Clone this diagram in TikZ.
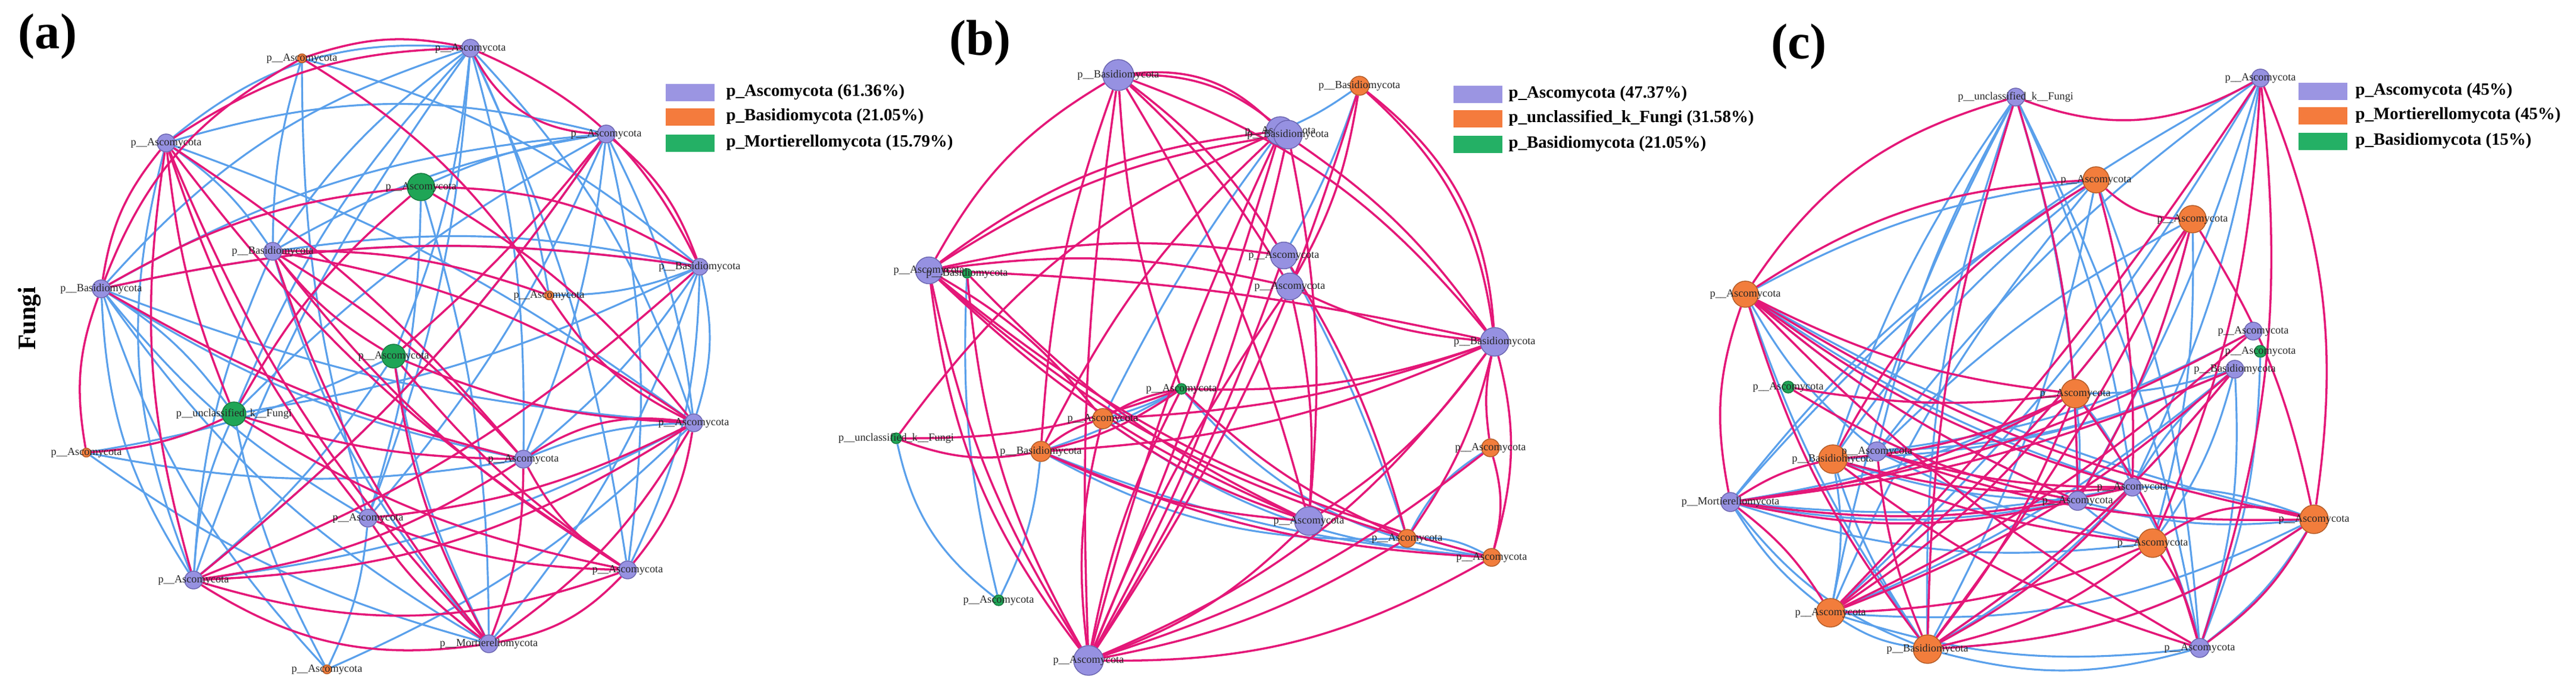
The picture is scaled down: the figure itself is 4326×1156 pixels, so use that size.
\documentclass[tikz,border=0pt]{standalone}
\usepackage{fontspec}
\setmainfont{Liberation Serif}
\usetikzlibrary{calc,backgrounds}
\definecolor{cpk}{HTML}{E41778}
\definecolor{cbl}{HTML}{5AA0EB}
\definecolor{cpu}{HTML}{9691E1}
\definecolor{cpuD}{HTML}{6A64B0}
\definecolor{cor}{HTML}{F27D3C}
\definecolor{corD}{HTML}{B25A25}
\definecolor{cgr}{HTML}{1FA556}
\definecolor{cgrD}{HTML}{157A3E}
\definecolor{lpu}{HTML}{9B95E2}
\definecolor{lor}{HTML}{F47B3D}
\definecolor{lgr}{HTML}{24B065}
\tikzset{
 nd/.style={circle,inner sep=0pt,line width=0.4pt},
 npu/.style={nd,fill=cpu,draw=cpuD},
 nor/.style={nd,fill=cor,draw=corD},
 ngr/.style={nd,fill=cgr,draw=cgrD},
 lb/.style={font=\fontsize{5.2}{6}\selectfont,text=black!85,inner sep=0pt},
 pk/.style={draw=cpk,line width=1pt},
 bl/.style={draw=cbl,line width=0.9pt},
 ttl/.style={font=\fontsize{24}{24}\selectfont\bfseries,inner sep=0pt},
 lgt/.style={font=\fontsize{8.2}{9}\selectfont\bfseries,anchor=west,inner sep=0pt},
 sw/.style={draw=none,inner sep=0pt,minimum width=8.2mm,minimum height=2.9mm}
}
\newcommand\nd[5]{\node[#1,minimum size=#2mm,label={[lb]center:#5}] (#3) at (#4) {};}
\newcommand\edg[4]{\path[#1] let \p1=(#2), \p2=(#3), \p3=(\ctr),
  \n1={atan2(\y2-\y1,\x2-\x1)},
  \n2={((\x3-0.5*\x1-0.5*\x2)/100)*((\y1-\y2)/100)+((\y3-0.5*\y1-0.5*\y2)/100)*((\x2-\x1)/100)},
  \n3={(1-2*(\n2>0))*#4}, \n4={\n1+\n3}, \n5={\n1+180-\n3}
  in (#2) to[out=\n4,in=\n5] (#3);}
\begin{document}
\begin{tikzpicture}[x=0.01cm,y=-0.01cm]
\useasboundingbox (0,0) rectangle (4326,1156);
% titles
\node[ttl] (ta) at (80,61) {(a)};
\node[ttl] (tb) at (1646,72) {(b)};
\node[ttl] (tc) at (3021,78) {(c)};
\node[font=\fontsize{12}{12}\selectfont\bfseries,rotate=90,inner sep=0pt] (fungi) at (50,535) {Fungi};
% legends
\node[sw,fill=lpu] (la1) at (1159,155) {};
\node[sw,fill=lor] (la2) at (1159,196) {};
\node[sw,fill=lgr] (la3) at (1159,240) {};
\node[lgt] (lta1) at (1219,155) {p\_Ascomycota (61.36\%)};
\node[lgt] (lta2) at (1219,196) {p\_Basidiomycota (21.05\%)};
\node[lgt] (lta3) at (1219,240) {p\_Mortierellomycota (15.79\%)};
\node[sw,fill=lpu] (lb1) at (2482,158) {};
\node[sw,fill=lor] (lb2) at (2482,199) {};
\node[sw,fill=lgr] (lb3) at (2482,242) {};
\node[lgt] (ltb1) at (2533,158) {p\_Ascomycota (47.37\%)};
\node[lgt] (ltb2) at (2533,199) {p\_unclassified\_k\_Fungi (31.58\%)};
\node[lgt] (ltb3) at (2533,242) {p\_Basidiomycota (21.05\%)};
\node[sw,fill=lpu] (lc1) at (3901,153) {};
\node[sw,fill=lor] (lc2) at (3901,194) {};
\node[sw,fill=lgr] (lc3) at (3901,237) {};
\node[lgt] (ltc1) at (3955,153) {p\_Ascomycota (45\%)};
\node[lgt] (ltc2) at (3955,194) {p\_Mortierellomycota (45\%)};
\node[lgt] (ltc3) at (3955,237) {p\_Basidiomycota (15\%)};
% panel a nodes
\coordinate (ctrA) at (660,590);
\nd{nor}{1.5}{A1}{507,98}{p\_\_Ascomycota}
\nd{npu}{3.0}{A2}{279,240}{p\_\_Ascomycota}
\nd{ngr}{4.6}{A3}{707,314}{p\_\_Ascomycota}
\nd{npu}{3.0}{A4}{458,422}{p\_\_Basidiomycota}
\nd{npu}{3.0}{A5}{170,485}{p\_\_Basidiomycota}
\nd{npu}{3.0}{A6}{790,81}{p\_\_Ascomycota}
\nd{npu}{3.0}{A7}{1018,225}{p\_\_Ascomycota}
\nd{npu}{2.8}{A8}{1175,448}{p\_\_Basidiomycota}
\nd{nor}{1.5}{A9}{922,496}{p\_\_Ascomycota}
\nd{ngr}{4.0}{A10}{661,598}{p\_\_Ascomycota}
\nd{ngr}{4.0}{A11}{393,695}{p\_\_unclassified\_k\_\_Fungi}
\nd{nor}{1.5}{A12}{145,760}{p\_\_Ascomycota}
\nd{npu}{3.0}{A13}{618,870}{p\_\_Ascomycota}
\nd{npu}{3.0}{A14}{325,974}{p\_\_Ascomycota}
\nd{nor}{1.5}{A15}{549,1124}{p\_\_Ascomycota}
\nd{npu}{3.0}{A16}{1165,710}{p\_\_Ascomycota}
\nd{npu}{3.0}{A17}{879,771}{p\_\_Ascomycota}
\nd{npu}{3.0}{A19}{1054,957}{p\_\_Ascomycota}
\nd{npu}{3.0}{A20}{821,1081}{p\_\_Mortierellomycota}
% panel b nodes
\coordinate (ctrB) at (2008,618);
\nd{npu}{5.2}{B1}{1878,126}{p\_\_Basidiomycota}
\nd{npu}{4.5}{B2}{1560,454}{p\_\_Ascomycota}
\nd{ngr}{1.6}{B3}{1624,459}{p\_\_Basidiomycota}
\nd{nor}{3.2}{B4}{2283,144}{p\_\_Basidiomycota}
\nd{npu}{4.8}{B5a}{2150,220}{p\_\_Ascomycota}
\nd{npu}{4.8}{B5b}{2163,226}{p\_\_Basidiomycota}
\nd{npu}{4.5}{B6}{2156,429}{p\_\_Ascomycota}
\nd{npu}{4.5}{B7}{2166,481}{p\_\_Ascomycota}
\nd{npu}{4.8}{B8}{2510,574}{p\_\_Basidiomycota}
\nd{ngr}{1.8}{B9}{1505,736}{p\_\_unclassified\_k\_\_Fungi}
\nd{nor}{3.4}{B10}{1748,758}{p\_\_Basidiomycota}
\nd{nor}{3.4}{B11}{1852,703}{p\_\_Ascomycota}
\nd{ngr}{1.8}{B12}{1984,653}{p\_\_Ascomycota}
\nd{ngr}{1.8}{B13}{1677,1008}{p\_\_Ascomycota}
\nd{npu}{5.0}{B14}{1828,1109}{p\_\_Ascomycota}
\nd{nor}{3.0}{B15}{2503,752}{p\_\_Ascomycota}
\nd{npu}{4.8}{B16}{2198,875}{p\_\_Ascomycota}
\nd{nor}{3.0}{B17}{2363,904}{p\_\_Ascomycota}
\nd{nor}{3.0}{B18}{2505,936}{p\_\_Ascomycota}
% panel c nodes
\coordinate (ctrC) at (3396,610);
\nd{npu}{3.0}{C1}{3385,163}{p\_\_unclassified\_k\_\_Fungi}
\nd{nor}{4.4}{C2}{3520,302}{p\_\_Ascomycota}
\nd{nor}{4.4}{C3}{2931,494}{p\_\_Ascomycota}
\nd{npu}{3.0}{C4}{3796,131}{p\_\_Ascomycota}
\nd{nor}{4.6}{C5}{3682,368}{p\_\_Ascomycota}
\nd{npu}{3.0}{C6}{3784,556}{p\_\_Ascomycota}
\nd{ngr}{2.0}{C7}{3003,650}{p\_\_Ascomycota}
\nd{nor}{4.8}{C8}{3485,661}{p\_\_Ascomycota}
\nd{nor}{4.8}{C9}{3078,771}{p\_\_Basidiomycota}
\nd{npu}{3.2}{C10}{3152,758}{p\_\_Ascomycota}
\nd{npu}{3.2}{C11}{2906,843}{p\_\_Mortierellomycota}
\nd{npu}{3.2}{C12}{3489,841}{p\_\_Ascomycota}
\nd{nor}{4.8}{C13}{3074,1029}{p\_\_Ascomycota}
\nd{nor}{4.8}{C14}{3237,1090}{p\_\_Basidiomycota}
\nd{ngr}{2.0}{C15}{3796,590}{p\_\_Ascomycota}
\nd{npu}{3.0}{C16}{3753,620}{p\_\_Basidiomycota}
\nd{npu}{3.0}{C17}{3581,818}{p\_\_Ascomycota}
\nd{nor}{4.8}{C18}{3886,872}{p\_\_Ascomycota}
\nd{nor}{4.8}{C19}{3615,912}{p\_\_Ascomycota}
\nd{npu}{3.2}{C20}{3694,1088}{p\_\_Ascomycota}
% edges
\begin{pgfonlayer}{background}
\def\ctr{ctrA}
\foreach \a/\b/\t in {A6/A2/22,A6/A5/15,A6/A4/10,A6/A11/10,A6/A13/8,A6/A17/8,A6/A10/8,A6/A19/8,A6/A9/8,A6/A16/12,A6/A14/8,
 A7/A2/15,A7/A5/12,A7/A4/10,A7/A11/8,A7/A13/8,A7/A17/8,A7/A19/10,A7/A14/8,A7/A16/10,
 A8/A4/10,A8/A5/10,A8/A11/8,A8/A17/8,A8/A20/10,A8/A19/12,A8/A9/-10,A8/A16/15,
 A5/A13/10,A5/A17/10,A5/A20/12,A5/A14/15,A5/A16/8,A5/A15/12,A5/A11/-10,
 A2/A14/18,A2/A16/8,A2/A4/-10,A4/A14/10,A4/A20/12,A12/A17/10,A12/A20/10,
 A14/A11/10,A14/A10/8,A14/A16/10,A15/A13/10,A15/A11/8,A15/A16/10,A16/A17/-10,
 A1/A13/8,A1/A8/12,A1/A4/8,A3/A20/8,A3/A13/8,A3/A7/8,A10/A20/8,A10/A12/8}
 {\edg{bl}{\a}{\b}{\t}}
\foreach \a/\b/\t in {A2/A6/16,A2/A14/12,A2/A20/10,A2/A13/10,A2/A17/8,A2/A19/10,A2/A11/8,
 A5/A1/20,A5/A3/12,A5/A8/10,A5/A12/15,A5/A17/8,A5/A2/15,
 A4/A20/10,A4/A19/10,A4/A17/8,A4/A16/12,A4/A10/10,A1/A9/12,A1/A6/15,
 A6/A7/-30,A6/A8/20,A7/A8/15,A7/A10/5,A7/A14/8,A3/A8/15,A3/A16/10,A3/A11/10,
 A10/A16/10,A10/A19/8,A10/A20/10,A11/A17/8,A11/A19/10,A11/A12/10,
 A14/A16/15,A14/A19/18,A14/A20/20,A14/A8/10,A14/A17/12,
 A13/A16/10,A13/A19/10,A13/A20/10,A17/A19/-15,A17/A16/-20,A17/A20/10,
 A16/A19/15,A16/A20/12,A19/A20/18,A9/A16/-15,A9/A4/10}
 {\edg{pk}{\a}{\b}{\t}}
\def\ctr{ctrB}
\foreach \a/\b/\t in {B4/B5a/-5,B4/B6/5,B5a/B11/5,B3/B13/8,B9/B13/20,B10/B13/-10,B10/B18/8,
 B12/B18/20,B11/B18/15,B6/B17/5,B17/B15/-15,B17/B18/-15,B10/B17/15,B12/B11/5,B12/B10/5}
 {\edg{bl}{\a}{\b}{\t}}
\foreach \a/\b/\t in {B1/B5a/25,B1/B5b/20,B1/B6/10,B1/B7/8,B1/B16/8,B1/B14/5,B1/B8/15,B1/B2/15,B1/B10/8,B1/B12/8,
 B2/B5a/15,B2/B6/10,B2/B7/10,B2/B8/5,B2/B16/10,B2/B14/10,B2/B14/15,B2/B17/12,B2/B11/-10,
 B3/B16/10,B3/B14/12,B4/B8/20,B4/B8/24,B4/B14/8,B4/B7/10,
 B5a/B14/5,B5b/B14/8,B5a/B14/-3,B5b/B16/8,B5a/B8/10,B5a/B10/10,B5a/B9/15,B5b/B2/12,
 B6/B14/6,B7/B14/-6,B7/B8/-10,B7/B16/8,B6/B17/8,
 B8/B14/15,B8/B10/10,B8/B11/8,B8/B15/-10,B8/B18/15,B8/B17/10,
 B9/B10/15,B9/B12/10,B10/B12/10,B10/B11/-10,B10/B16/10,B10/B18/10,
 B11/B12/-10,B11/B16/8,B12/B17/10,B12/B8/10,B14/B16/12,B14/B12/8,B14/B11/10,
 B15/B18/15,B15/B14/10,B16/B8/10,B17/B14/10,B18/B2/12,B18/B14/15}
 {\edg{pk}{\a}{\b}{\t}}
\def\ctr{ctrC}
\foreach \a/\b/\t in {C1/C13/8,C1/C14/10,C1/C12/8,C1/C8/5,C1/C20/8,C1/C17/8,C1/C9/8,C1/C10/8,
 C2/C13/8,C2/C11/10,C2/C9/8,C2/C14/8,C2/C20/8,C2/C3/10,
 C4/C13/8,C4/C11/10,C4/C10/8,C4/C17/8,C4/C12/6,C5/C13/8,C5/C12/8,C5/C10/8,C5/C19/8,
 C3/C17/8,C3/C12/8,C3/C14/8,C3/C10/10,
 C11/C17/8,C11/C12/10,C11/C13/10,C11/C19/12,C11/C8/8,C11/C14/15,
 C9/C16/10,C9/C12/8,C9/C14/8,C9/C13/-10,C10/C16/10,C10/C6/10,C10/C19/8,
 C13/C14/12,C13/C18/15,C13/C16/8,C13/C20/12,C14/C18/15,C14/C20/15,C14/C16/8,C14/C17/8,
 C16/C17/-10,C16/C20/10,C16/C19/10,C15/C20/10,C17/C20/8,C17/C18/-10,
 C18/C20/10,C18/C12/10,C18/C3/8,C19/C12/10,C8/C12/5,C8/C16/8,C8/C17/8}
 {\edg{bl}{\a}{\b}{\t}}
\foreach \a/\b/\t in {C1/C3/20,C1/C4/-25,C1/C12/8,C1/C14/8,C9/C2/15,C3/C2/15,
 C3/C8/10,C3/C12/8,C3/C17/10,C3/C18/10,C3/C14/10,C3/C20/8,
 C4/C18/15,C4/C19/10,C4/C20/12,C4/C13/5,C5/C2/-20,C5/C14/5,C5/C13/8,C5/C18/10,
 C16/C11/8,C16/C13/10,C16/C14/8,C6/C13/8,C6/C11/10,
 C8/C9/10,C8/C11/10,C8/C14/8,C8/C20/10,C9/C11/-10,C9/C17/10,C9/C20/10,C9/C19/8,
 C10/C17/8,C10/C14/8,C10/C18/10,C11/C17/10,C11/C3/15,C11/C12/12,C11/C13/-10,
 C13/C8/8,C13/C19/10,C14/C19/12,C14/C18/15,C14/C17/10,C18/C19/-25,C18/C20/12,
 C19/C20/10,C7/C8/8,C7/C12/10,C2/C17/8,C5/C12/8}
 {\edg{pk}{\a}{\b}{\t}}
\end{pgfonlayer}
\end{tikzpicture}
\end{document}
